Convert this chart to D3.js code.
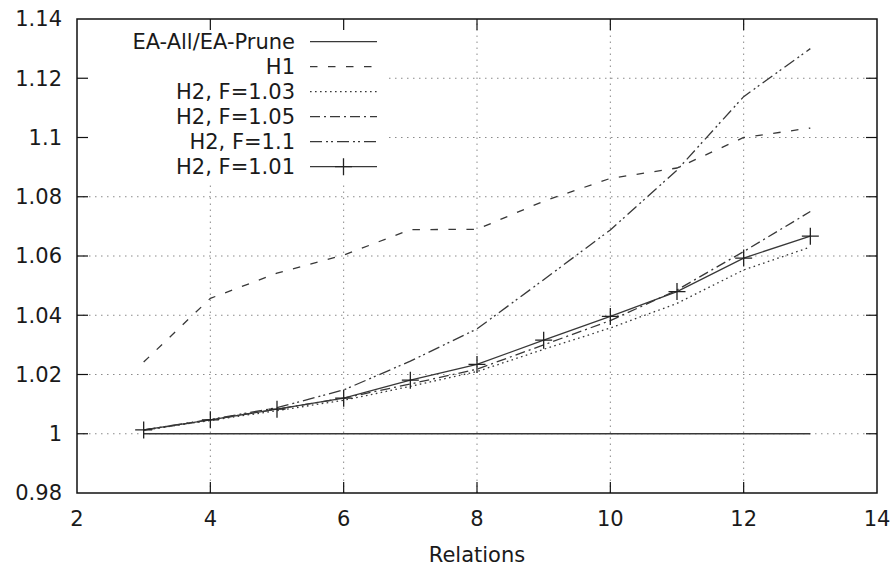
<!DOCTYPE html>
<html>
<head>
<meta charset="utf-8">
<script src="https://cdn.jsdelivr.net/npm/d3@7"></script>
<style>
  body { margin: 0; background: #fff; }
  text { font-family: "DejaVu Sans", sans-serif; font-size: 21px; fill: #1a1a1a; }
</style>
</head>
<body>
<svg id="chart"></svg>
<script>
const relations = [3, 4, 5, 6, 7, 8, 9, 10, 11, 12, 13];

const eaAll = [1, 1, 1, 1, 1, 1, 1, 1, 1, 1, 1];
const h1 = [1.0242, 1.0457, 1.0542, 1.0603, 1.0689, 1.0690, 1.0785, 1.0862, 1.0897, 1.1000, 1.1032];
const h2f103 = [1.0012, 1.0045, 1.0078, 1.0113, 1.0160, 1.0210, 1.0285, 1.0357, 1.0440, 1.0553, 1.0630];
const h2f105 = [1.0012, 1.0047, 1.0083, 1.0120, 1.0168, 1.0218, 1.0300, 1.0382, 1.0485, 1.0615, 1.0750];
const h2f11 = [1.0013, 1.0048, 1.0088, 1.0148, 1.0245, 1.0354, 1.0520, 1.0688, 1.0890, 1.1138, 1.1300];
const h2f101 = [1.0013, 1.0047, 1.0083, 1.0120, 1.0181, 1.0234, 1.0316, 1.0396, 1.0480, 1.0593, 1.0667];

const xTicks = [2, 4, 6, 8, 10, 12, 14];
const yTicks = [0.98, 1, 1.02, 1.04, 1.06, 1.08, 1.1, 1.12, 1.14];

const series = [
  { name: "EA-All/EA-Prune", values: eaAll, dash: null, marker: false },
  { name: "H1", values: h1, dash: "7.5,10.5", marker: false },
  { name: "H2, F=1.03", values: h2f103, dash: "1.6,3.4", marker: false },
  { name: "H2, F=1.05", values: h2f105, dash: "10,4,2,4", marker: false },
  { name: "H2, F=1.1", values: h2f11, dash: "12,4,2,3,2,4", marker: false },
  { name: "H2, F=1.01", values: h2f101, dash: null, marker: true }
];

const width = 895;
const height = 567;
const margin = { top: 19, right: 18, bottom: 74, left: 77 };
const lineColor = "#383838";

const svg = d3.select("#chart").attr("width", width).attr("height", height);

const x = d3.scaleLinear().domain([2, 14]).range([margin.left, width - margin.right]);
const y = d3.scaleLinear().domain([0.98, 1.14]).range([height - margin.bottom, margin.top]);

// plus marker path
const plus = (cx, cy) => `M${cx - 8.5},${cy}h17M${cx},${cy - 8.5}v17`;

// grid
const grid = svg.append("g")
  .attr("stroke", "#8a8a8a")
  .attr("stroke-width", 1)
  .attr("stroke-dasharray", "1.5,4.5");

grid.selectAll(".gy")
  .data(yTicks.slice(1, -1))
  .enter()
  .append("line")
  .attr("x1", x(2)).attr("x2", x(14))
  .attr("y1", d => y(d)).attr("y2", d => y(d));

grid.selectAll(".gx")
  .data(xTicks.slice(1, -1))
  .enter()
  .append("line")
  .attr("y1", y(0.98)).attr("y2", y(1.14))
  .attr("x1", d => x(d)).attr("x2", d => x(d));

// opaque key box
const key = { right: 295, sampleX1: 310, sampleX2: 377, top: 41.7, step: 25 };
svg.append("rect")
  .attr("x", x(2) + 1)
  .attr("y", y(1.14) + 1)
  .attr("width", 385 - x(2))
  .attr("height", 180 - y(1.14))
  .attr("fill", "#fff");

// series lines
const line = d3.line().x((d, i) => x(relations[i])).y(d => y(d));

series.forEach(s => {
  svg.append("path")
    .datum(s.values)
    .attr("d", line)
    .attr("fill", "none")
    .attr("stroke", lineColor)
    .attr("stroke-width", 1.3)
    .attr("stroke-dasharray", s.dash);

  if (s.marker) {
    svg.append("g")
      .selectAll("path")
      .data(s.values)
      .enter()
      .append("path")
      .attr("d", (d, i) => plus(x(relations[i]), y(d)))
      .attr("stroke", "#222")
      .attr("stroke-width", 1.3);
  }
});

// legend entries
series.forEach((s, i) => {
  const cy = key.top + i * key.step;
  svg.append("text")
    .attr("x", key.right)
    .attr("y", cy)
    .attr("dy", "0.35em")
    .attr("text-anchor", "end")
    .text(s.name);
  svg.append("line")
    .attr("x1", key.sampleX1).attr("x2", key.sampleX2)
    .attr("y1", cy).attr("y2", cy)
    .attr("stroke", lineColor)
    .attr("stroke-width", 1.3)
    .attr("stroke-dasharray", s.dash);
  if (s.marker) {
    svg.append("path")
      .attr("d", plus((key.sampleX1 + key.sampleX2) / 2, cy))
      .attr("stroke", "#222")
      .attr("stroke-width", 1.3);
  }
});

// frame and inward ticks on all sides
const tickLen = 11;
const ax = svg.append("g").attr("stroke", "#111").attr("stroke-width", 1.2);

xTicks.slice(1, -1).forEach(t => {
  ax.append("line").attr("x1", x(t)).attr("x2", x(t)).attr("y1", y(0.98)).attr("y2", y(0.98) - tickLen);
  ax.append("line").attr("x1", x(t)).attr("x2", x(t)).attr("y1", y(1.14)).attr("y2", y(1.14) + tickLen);
});
yTicks.slice(1, -1).forEach(t => {
  ax.append("line").attr("x1", x(2)).attr("x2", x(2) + tickLen).attr("y1", y(t)).attr("y2", y(t));
  ax.append("line").attr("x1", x(14)).attr("x2", x(14) - tickLen).attr("y1", y(t)).attr("y2", y(t));
});

svg.append("rect")
  .attr("x", x(2)).attr("y", y(1.14))
  .attr("width", x(14) - x(2)).attr("height", y(0.98) - y(1.14))
  .attr("fill", "none")
  .attr("stroke", "#111")
  .attr("stroke-width", 1.5);

// tick labels
svg.selectAll(".xl")
  .data(xTicks)
  .enter()
  .append("text")
  .attr("x", d => x(d))
  .attr("y", 519)
  .attr("dy", "0.35em")
  .attr("text-anchor", "middle")
  .text(d => d);

svg.selectAll(".yl")
  .data(yTicks)
  .enter()
  .append("text")
  .attr("x", 62)
  .attr("y", d => y(d))
  .attr("dy", "0.35em")
  .attr("text-anchor", "end")
  .text(d => d3.format("")(d));

svg.append("text")
  .attr("x", (x(2) + x(14)) / 2)
  .attr("y", 555)
  .attr("dy", "0.35em")
  .attr("text-anchor", "middle")
  .text("Relations");
</script>
</body>
</html>
